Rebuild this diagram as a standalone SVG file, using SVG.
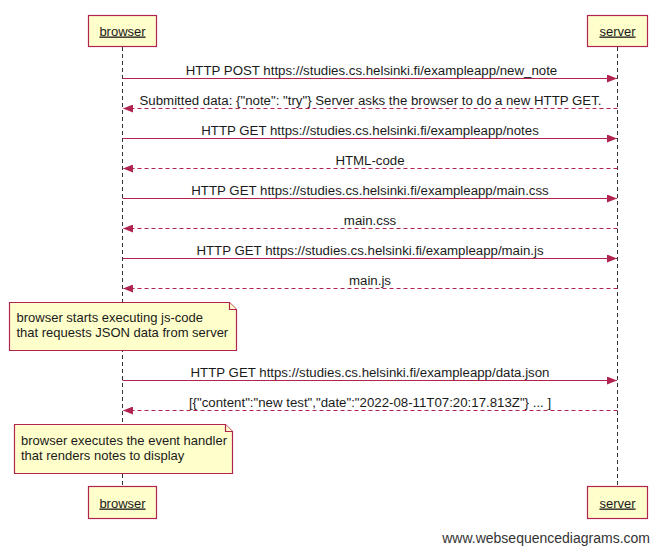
<svg xmlns="http://www.w3.org/2000/svg" width="661" height="553" viewBox="0 0 661 553">
  <style>
    text { font-family: "Liberation Sans", Arial, sans-serif; font-size: 13px; fill: #1a1a1a; }
    .actor rect { fill: #ffffcc; stroke: #b0244f; stroke-width: 1.2; }
    .actor text { text-anchor: middle; text-decoration: underline; }
    .life { stroke: #333; stroke-width: 1; stroke-dasharray: 4 3; }
    .msg { stroke: #b0244f; stroke-width: 1; fill: none; }
    .ret { stroke: #b0244f; stroke-width: 1; fill: none; stroke-dasharray: 4 3; }
    .lbl { text-anchor: middle; font-size: 13.25px; }
    .note path { fill: #ffffcc; stroke: #b0244f; stroke-width: 1.2; }
    .mark { fill: #333; font-size: 14px; }
  </style>
  <defs>
    <marker id="head" markerWidth="10" markerHeight="8" refX="10" refY="4" orient="auto" markerUnits="userSpaceOnUse">
      <path d="M0,0 L10,4 L0,8 z" fill="#b0244f"/>
    </marker>
  </defs>
  <rect width="661" height="553" fill="#ffffff"/>

  <!-- lifelines -->
  <g id="lifelines">
    <line class="life" x1="122.5" y1="47" x2="122.5" y2="486"/>
    <line class="life" x1="617.5" y1="47" x2="617.5" y2="486"/>
  </g>

  <!-- participants -->
  <g id="browser-top" class="actor">
    <rect x="88.5" y="15.5" width="68" height="31"/>
    <text x="122.5" y="35.5">browser</text>
  </g>
  <g id="server-top" class="actor">
    <rect x="587.5" y="15.5" width="60" height="31"/>
    <text x="617.5" y="35.5">server</text>
  </g>
  <g id="browser-bottom" class="actor">
    <rect x="88.5" y="486.5" width="68" height="32"/>
    <text x="122.5" y="507.5">browser</text>
  </g>
  <g id="server-bottom" class="actor">
    <rect x="587.5" y="486.5" width="60" height="32"/>
    <text x="617.5" y="507.5">server</text>
  </g>

  <!-- messages -->
  <g id="connectors">
    <line class="msg" x1="122.5" y1="78.5" x2="617" y2="78.5" marker-end="url(#head)"/>
    <text class="lbl" x="371.5" y="75">HTTP POST https://studies.cs.helsinki.fi/exampleapp/new_note</text>

    <line class="ret" x1="617.5" y1="108.5" x2="123" y2="108.5" marker-end="url(#head)"/>
    <text class="lbl" x="370.5" y="105">Submitted data: {"note": "try"} Server asks the browser to do a new HTTP GET.</text>

    <line class="msg" x1="122.5" y1="138.5" x2="617" y2="138.5" marker-end="url(#head)"/>
    <text class="lbl" x="370" y="135">HTTP GET https://studies.cs.helsinki.fi/exampleapp/notes</text>

    <line class="ret" x1="617.5" y1="168.5" x2="123" y2="168.5" marker-end="url(#head)"/>
    <text class="lbl" x="370" y="165">HTML-code</text>

    <line class="msg" x1="122.5" y1="198.5" x2="617" y2="198.5" marker-end="url(#head)"/>
    <text class="lbl" x="370" y="195">HTTP GET https://studies.cs.helsinki.fi/exampleapp/main.css</text>

    <line class="ret" x1="617.5" y1="228.5" x2="123" y2="228.5" marker-end="url(#head)"/>
    <text class="lbl" x="370" y="225">main.css</text>

    <line class="msg" x1="122.5" y1="258.5" x2="617" y2="258.5" marker-end="url(#head)"/>
    <text class="lbl" x="370" y="255">HTTP GET https://studies.cs.helsinki.fi/exampleapp/main.js</text>

    <line class="ret" x1="617.5" y1="288.5" x2="123" y2="288.5" marker-end="url(#head)"/>
    <text class="lbl" x="370" y="285">main.js</text>

    <line class="msg" x1="122.5" y1="380.5" x2="617" y2="380.5" marker-end="url(#head)"/>
    <text class="lbl" x="370" y="377">HTTP GET https://studies.cs.helsinki.fi/exampleapp/data.json</text>

    <line class="ret" x1="617.5" y1="410.5" x2="123" y2="410.5" marker-end="url(#head)"/>
    <text class="lbl" x="370" y="407">[{"content":"new test","date":"2022-08-11T07:20:17.813Z"} ... ]</text>
  </g>

  <!-- notes -->
  <g id="note-js" class="note">
    <path d="M9.5,302.5 H229.5 L236.5,309.5 V350.5 H9.5 Z"/>
    <path d="M229.5,302.5 V309.5 H236.5" fill="none"/>
    <text x="16.5" y="322">browser starts executing js-code</text>
    <text x="16.5" y="337">that requests JSON data from server</text>
  </g>
  <g id="note-render" class="note">
    <path d="M14.5,424.5 H225.5 L232.5,431.5 V473.5 H14.5 Z"/>
    <path d="M225.5,424.5 V431.5 H232.5" fill="none"/>
    <text x="21" y="445">browser executes the event handler</text>
    <text x="21" y="460">that renders notes to display</text>
  </g>

  <text class="mark" x="650" y="543" text-anchor="end">www.websequencediagrams.com</text>
</svg>
